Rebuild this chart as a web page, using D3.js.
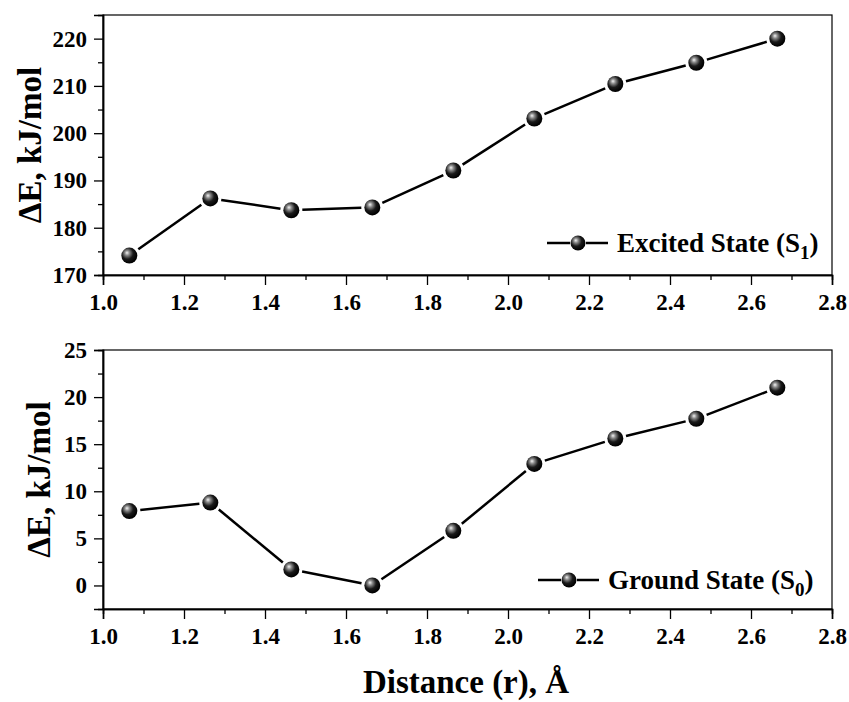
<!DOCTYPE html>
<html>
<head>
<meta charset="utf-8">
<script src="https://cdn.jsdelivr.net/npm/d3@7"></script>
<style>
    body { margin: 0; background: #fff; }
    svg { display: block; }
</style>
</head>
<body>
<div id="chart"></div>
<script>
// distances (r), Å
const distances = [1.065, 1.265, 1.465, 1.665, 1.865, 2.065, 2.265, 2.465, 2.665];
// ΔE values, kJ/mol
const excitedS1 = [174.1, 186.2, 183.7, 184.3, 192.1, 203.1, 210.4, 214.9, 220.0];
const groundS0 = [7.9, 8.8, 1.7, 0.0, 5.8, 12.9, 15.6, 17.7, 21.0];

const xTicks = [1.0, 1.2, 1.4, 1.6, 1.8, 2.0, 2.2, 2.4, 2.6, 2.8];
const topYTicks = [170, 180, 190, 200, 210, 220];
const bottomYTicks = [0, 5, 10, 15, 20, 25];

const width = 849, height = 702;
const left = 103, right = 832;
const FONT = "'Liberation Serif', 'Times New Roman', Times, serif";

const svg = d3.select('#chart')
    .append('svg')
    .attr('width', width)
    .attr('height', height)
    .attr('font-family', FONT)
    .attr('font-weight', 'bold');

// sphere-like marker fill
const defs = svg.append('defs');
const grad = defs.append('radialGradient')
    .attr('id', 'ball')
    .attr('cx', '40%').attr('cy', '38%').attr('r', '60%')
    .attr('fx', '35%').attr('fy', '32%');
grad.append('stop').attr('offset', '0%').attr('stop-color', '#f4f4f4');
grad.append('stop').attr('offset', '25%').attr('stop-color', '#8a8a8a');
grad.append('stop').attr('offset', '60%').attr('stop-color', '#1a1a1a');
grad.append('stop').attr('offset', '100%').attr('stop-color', '#000');

const x = d3.scaleLinear().domain([1.0, 2.8]).range([left, right]);

const R = 8;

function styleAxis(a) {
    a.attr('font-family', FONT).attr('font-size', null);
    a.selectAll('.domain').attr('stroke-width', 1.5);
    a.selectAll('line').attr('stroke-width', 1.3);
    a.selectAll('text')
        .attr('font-family', FONT)
        .attr('font-weight', 'bold')
        .attr('font-size', '23px')
        .attr('fill', '#000');
}

function panel(opts) {
    const y = d3.scaleLinear().domain(opts.yDomain).range([opts.bottom, opts.top]);
    const g = svg.append('g');

    // frame
    g.append('rect')
        .attr('x', left).attr('y', opts.top)
        .attr('width', right - left).attr('height', opts.bottom - opts.top)
        .attr('fill', 'none').attr('stroke', '#000').attr('stroke-width', 1.2);

    // x axis
    const xMinor = d3.range(1.1, 2.8, 0.2);
    const xa = g.append('g').attr('transform', `translate(0,${opts.bottom})`);
    xa.call(d3.axisBottom(x).tickValues(xTicks).tickFormat(d3.format('.1f')).tickSize(10).tickPadding(9));
    xa.append('g').call(d3.axisBottom(x).tickValues(xMinor).tickSize(5).tickFormat(''));
    styleAxis(xa);

    // y axis
    const ya = g.append('g').attr('transform', `translate(${left},0)`);
    ya.call(d3.axisLeft(y).tickValues(opts.yTicks).tickSize(9).tickPadding(7));
    ya.append('g').call(d3.axisLeft(y).tickValues(opts.yMinor).tickSize(5).tickFormat(''));
    styleAxis(ya);

    // y title
    g.append('text')
        .attr('transform', `translate(${opts.titleX},${(opts.top + opts.bottom) / 2}) rotate(-90)`)
        .attr('text-anchor', 'middle')
        .attr('dy', '0.35em')
        .attr('font-size', '33px')
        .text('ΔE, kJ/mol');

    // connecting line, with a gap around each ball
    const pts = distances.map((d, i) => [x(d), y(opts.values[i])]);
    const gap = R + 3;
    for (let i = 0; i < pts.length - 1; i++) {
        const [x1, y1] = pts[i], [x2, y2] = pts[i + 1];
        const len = Math.hypot(x2 - x1, y2 - y1);
        const ux = (x2 - x1) / len, uy = (y2 - y1) / len;
        g.append('line')
            .attr('x1', x1 + ux * gap).attr('y1', y1 + uy * gap)
            .attr('x2', x2 - ux * gap).attr('y2', y2 - uy * gap)
            .attr('stroke', '#000').attr('stroke-width', 2.5);
    }

    g.append('g')
        .selectAll('circle')
        .data(pts)
        .enter()
        .append('circle')
        .attr('cx', d => d[0])
        .attr('cy', d => d[1])
        .attr('r', R)
        .attr('fill', 'url(#ball)');

    // legend
    const lg = g.append('g').attr('transform', `translate(${opts.legX},${opts.legY})`);
    lg.append('line').attr('x1', 0).attr('x2', 23).attr('stroke', '#000').attr('stroke-width', 2.5);
    lg.append('line').attr('x1', 39).attr('x2', 61).attr('stroke', '#000').attr('stroke-width', 2.5);
    lg.append('circle').attr('cx', 31).attr('cy', 0).attr('r', 7.5).attr('fill', 'url(#ball)');
    const t = lg.append('text').attr('x', 70).attr('y', 9).attr('font-size', '27px');
    t.append('tspan').text(opts.label + ' (S');
    t.append('tspan').attr('dy', 7).attr('font-size', '19px').text(opts.sub);
    t.append('tspan').attr('dy', -7).text(')');
}

panel({
    top: 15, bottom: 275,
    yDomain: [170, 225],
    yTicks: topYTicks,
    yMinor: d3.range(175, 225, 10),
    values: excitedS1,
    titleX: 29,
    label: 'Excited State', sub: '1',
    legX: 547, legY: 243
});

panel({
    top: 350, bottom: 609,
    yDomain: [-2.5, 25],
    yTicks: bottomYTicks,
    yMinor: d3.range(2.5, 25, 5),
    values: groundS0,
    titleX: 38,
    label: 'Ground State', sub: '0',
    legX: 538, legY: 580
});

// x title
svg.append('text')
    .attr('x', 466)
    .attr('y', 693)
    .attr('text-anchor', 'middle')
    .attr('font-size', '33px')
    .text('Distance (r), Å');
</script>
</body>
</html>
